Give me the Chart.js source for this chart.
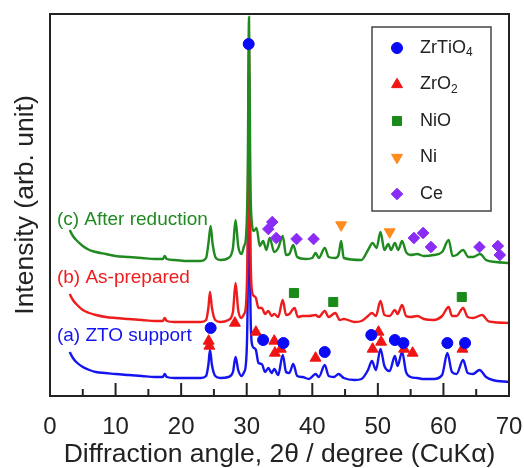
<!DOCTYPE html>
<html>
<head>
<meta charset="utf-8">
<script src="https://cdn.jsdelivr.net/npm/chart.js@4.4.1/dist/chart.umd.min.js"></script>
<style>
  body { margin: 0; background: #fff; }
  #wrap { width: 524px; height: 468px; }
</style>
</head>
<body>
<div id="wrap"><canvas id="xrdChart" width="524" height="468"></canvas></div>
<script>
// XRD patterns, 2theta (deg) vs intensity (arb., offset per sample)
const angA = [3, 3.5, 4, 5, 6, 7, 8.5, 10, 12, 14, 16, 17.2, 17.5, 17.8, 19, 21, 23, 23.8, 24.15, 24.4, 24.7, 25.2, 26, 27.2, 27.9, 28.3, 28.7, 29.2, 29.6, 29.9, 30.15, 30.35, 30.55, 30.8, 31.1, 31.4, 31.8, 32.3, 32.8, 33.3, 33.8, 34.2, 34.8, 35.5, 36.0, 36.5, 37.1, 37.7, 38.5, 39.5, 40.5, 41.0, 41.9, 42.5, 43.3, 44.0, 44.8, 46.5, 47.5, 48.5, 49.1, 49.7, 50.4, 51.0, 51.8, 52.6, 53.0, 53.7, 54.3, 55.0, 56.0, 57.0, 58.5, 59.8, 60.6, 61.3, 62.0, 63.0, 63.7, 64.5, 65.5, 66.5, 67.5, 70];
const intA = [44, 38, 34, 29, 26, 24, 23, 22, 21, 20, 19, 19, 22, 19, 18, 18, 18, 20, 31, 46, 31, 20, 18, 19, 24, 39, 26, 20, 24, 34, 100, 321, 100, 52, 48, 46, 33, 32, 24, 28, 23, 27, 21, 41, 24, 23, 32, 20, 19, 17, 22, 19, 31, 20, 19, 22, 18, 16, 17, 26, 35, 26, 47, 30, 25, 40, 30, 44, 24, 19, 18, 17, 17, 21, 43, 24, 22, 36, 23, 22, 26, 19, 16, 14];

const angB = [3, 3.5, 4, 5, 6, 7, 8.5, 10, 12, 14, 16, 17.2, 17.5, 17.8, 19, 21, 23, 23.8, 24.15, 24.4, 24.7, 25.2, 26, 27.2, 27.9, 28.3, 28.7, 29.2, 29.6, 29.9, 30.15, 30.35, 30.55, 30.8, 31.1, 31.4, 31.8, 32.3, 32.8, 33.3, 33.8, 34.2, 34.8, 35.5, 36.0, 36.5, 37.3, 37.8, 38.5, 39.5, 40.5, 41.0, 41.9, 42.5, 43.5, 44.2, 44.8, 46.5, 47.5, 48.5, 49.1, 49.7, 50.4, 51.0, 51.8, 52.6, 53.0, 53.7, 54.3, 55.0, 56.0, 57.0, 58.5, 59.8, 60.8, 61.3, 62.0, 63.0, 63.7, 64.5, 65.9, 66.8, 67.5, 70];
const intB = [102, 96, 92, 86, 83, 81, 79, 78, 77, 76, 75, 75, 78, 75, 74, 74, 74, 76, 88, 104, 88, 76, 74, 76, 84, 113, 86, 78, 82, 92, 160, 351, 160, 105, 100, 98, 88, 88, 82, 85, 80, 82, 79, 96, 81, 82, 88, 79, 80, 80, 81, 79, 85, 79, 83, 76, 77, 74, 75, 80, 83, 80, 95, 81, 80, 86, 82, 91, 80, 79, 80, 77, 76, 80, 89, 80, 80, 88, 79, 78, 81, 75, 74, 73];

const angC = [3, 3.5, 4, 5, 6, 7, 8.5, 10, 12, 14, 16, 17.2, 17.5, 17.8, 19, 21, 23, 23.8, 24.15, 24.5, 24.8, 25.3, 26, 27.2, 27.9, 28.3, 28.7, 29.2, 29.6, 29.9, 30.15, 30.35, 30.55, 30.8, 31.1, 31.5, 32.0, 32.5, 33.0, 33.5, 34.2, 34.8, 35.5, 36.0, 36.5, 37.1, 37.7, 39.0, 40.0, 40.5, 41.0, 41.9, 42.5, 43.5, 44.0, 44.4, 44.8, 47.5, 48.5, 49.2, 49.8, 50.4, 51.0, 51.6, 52.0, 52.6, 53.1, 53.7, 54.3, 55.0, 56.0, 57.0, 58.5, 59.8, 60.8, 61.4, 62.0, 63.0, 63.8, 64.5, 65.6, 66.5, 68, 70];
const intC = [166, 160, 156, 150, 146, 144, 142, 140, 139, 138, 137, 137, 140, 137, 136, 135, 135, 138, 152, 170, 152, 138, 136, 138, 148, 176, 150, 142, 150, 160, 220, 379, 220, 172, 165, 168, 150, 155, 146, 158, 144, 148, 160, 141, 142, 151, 139, 137, 138, 143, 138, 148, 139, 138, 141, 155, 138, 136, 146, 153, 148, 164, 146, 152, 146, 153, 146, 155, 144, 141, 142, 140, 141, 144, 156, 140, 141, 146, 139, 139, 142, 136, 134, 133];

// phase markers
const ztoX = [30.3, 24.5, 32.5, 35.6, 41.9, 49.0, 52.6, 53.9, 60.6, 63.3];
const ztoY = [352, 68, 56, 53, 44, 61, 56, 53, 53, 53];
const zro2X = [24.2, 24.3, 28.2, 31.4, 34.2, 34.3, 35.2, 40.5, 49.2, 50.1, 50.5, 54.0, 55.3, 62.9];
const zro2Y = [55, 50, 73, 64, 55, 43, 47, 38, 47, 64, 54, 47, 43, 47];
const nioX = [37.2, 43.2, 62.8];
const nioY = [103, 94, 99];
const niX = [44.4, 51.8];
const niY = [171, 164];
const ceX = [33.3, 33.9, 34.5, 37.6, 40.2, 55.5, 56.9, 58.1, 65.5, 68.3, 68.6];
const ceY = [167, 174, 158, 157, 157, 158, 163, 149, 149, 150, 141];

const phaseNames = ['ZrTiO4', 'ZrO2', 'NiO', 'Ni', 'Ce'];
const sampleNames = ['(a) ZTO support', '(b) As-prepared', '(c) After reduction'];
const xTicks = [0, 10, 20, 30, 40, 50, 60, 70];

const FONT = "'Liberation Sans', Arial, sans-serif";
const BLUE = '#1414f0', RED = '#ee1c1c', GREEN = '#1f8a1f';

const toPts = (xs, ys) => xs.map((x, i) => ({x: x, y: ys[i]}));

function trace(label, xs, ys, color, order) {
    return {
        type: 'line', label: label, data: toPts(xs, ys),
        borderColor: color, borderWidth: 2.4, pointRadius: 0,
        cubicInterpolationMode: 'monotone', fill: false, order: order
    };
}
function marks(label, xs, ys, color, style, r, rot) {
    return {
        type: 'scatter', label: label, data: toPts(xs, ys),
        backgroundColor: color, borderColor: color, borderWidth: 1,
        pointStyle: style, pointRadius: r, pointRotation: rot || 0, order: 0
    };
}

const markerSets = [
    marks(phaseNames[0], ztoX, ztoY, '#0a0af5', 'circle', 5.5),
    marks(phaseNames[1], zro2X, zro2Y, '#f01414', 'triangle', 6.3),
    marks(phaseNames[2], nioX, nioY, '#1a8a1a', 'rect', 6.4),
    marks(phaseNames[3], niX, niY, '#ff8a1e', 'triangle', 6.3, 180),
    marks(phaseNames[4], ceX, ceY, '#8a2cf5', 'rectRot', 5.8)
];

// frame, inward ticks, sample captions, legend box
const decor = {
    id: 'decor',
    afterDraw(chart) {
        const {ctx, chartArea: a, scales: {x, y}} = chart;
        ctx.save();
        ctx.strokeStyle = '#222';
        ctx.lineWidth = 2;
        ctx.strokeRect(a.left, a.top, a.right - a.left, a.bottom - a.top);
        for (let v = 0; v <= 70; v += 5) {
            const px = x.getPixelForValue(v);
            const len = v % 10 === 0 ? 13 : 7;
            ctx.beginPath();
            ctx.moveTo(px, a.bottom);
            ctx.lineTo(px, a.bottom - len);
            ctx.stroke();
        }

        ctx.font = '19px ' + FONT;
        ctx.textBaseline = 'middle';
        ctx.textAlign = 'left';
        const capY = [60, 118, 176];
        const capC = [BLUE, RED, GREEN];
        sampleNames.forEach((s, i) => {
            ctx.fillStyle = capC[i];
            ctx.fillText(s, x.getPixelForValue(1.05), y.getPixelForValue(capY[i]));
        });

        // legend
        const lx = a.right - 137, ly = a.top + 13;
        ctx.lineWidth = 1.5;
        ctx.strokeStyle = '#444';
        ctx.strokeRect(lx, ly, 119, 184);
        markerSets.forEach((ds, i) => {
            const cy = ly + 21 + i * 36.5;
            ctx.fillStyle = ds.backgroundColor;
            ctx.strokeStyle = ds.borderColor;
            ctx.lineWidth = 1;
            Chart.helpers.drawPoint(ctx, {
                pointStyle: ds.pointStyle, radius: ds.pointRadius,
                rotation: ds.pointRotation, borderWidth: 1
            }, lx + 25, cy);
            ctx.fillStyle = '#222';
            let tx = lx + 48;
            for (const ch of ds.label) {
                if (/[0-9]/.test(ch)) {
                    ctx.font = '12px ' + FONT;
                    ctx.fillText(ch, tx, cy + 5);
                } else {
                    ctx.font = '18px ' + FONT;
                    ctx.fillText(ch, tx, cy);
                }
                tx += ctx.measureText(ch).width;
            }
        });
        ctx.restore();
    }
};

new Chart(document.getElementById('xrdChart').getContext('2d'), {
    data: {
        datasets: [
            ...markerSets,
            trace(sampleNames[2], angC, intC, GREEN, 1),
            trace(sampleNames[1], angB, intB, RED, 2),
            trace(sampleNames[0], angA, intA, BLUE, 3)
        ]
    },
    options: {
        responsive: false,
        animation: false,
        devicePixelRatio: 1,
        layout: {padding: {left: 0, right: 15, top: 14, bottom: 0}},
        plugins: {legend: {display: false}, tooltip: {enabled: false}},
        scales: {
            x: {
                type: 'linear', min: 0, max: 70,
                afterBuildTicks: s => { s.ticks = xTicks.map(v => ({value: v})); },
                ticks: {font: {family: FONT, size: 24}, color: '#222', padding: 9, maxRotation: 0},
                grid: {display: false},
                border: {display: false},
                title: {display: true, text: 'Diffraction angle, 2θ / degree (CuKα)',
                        font: {family: FONT, size: 26.5, lineHeight: 1}, color: '#222', padding: 0},
                afterFit: s => { s.height = 72; s.paddingLeft = 0; s.paddingRight = 0; }
            },
            y: {
                type: 'linear', min: 0, max: 382,
                ticks: {display: false},
                grid: {display: false},
                border: {display: false},
                title: {display: true, text: 'Intensity (arb. unit)',
                        font: {family: FONT, size: 26.5, lineHeight: 1}, color: '#222',
                        padding: {top: 12.5, bottom: 0}},
                afterFit: s => { s.width = 50; }
            }
        }
    },
    plugins: [decor]
});
</script>
</body>
</html>
